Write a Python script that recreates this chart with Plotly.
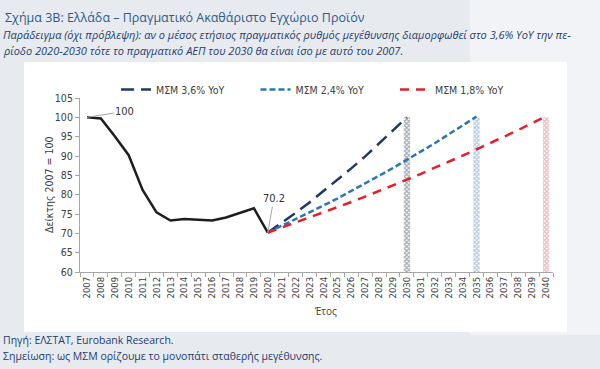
import plotly.graph_objects as go

years_hist = [2007, 2008, 2009, 2010, 2011, 2012, 2013, 2014, 2015, 2016, 2017, 2018, 2019, 2020]
gdp_hist = [100.0, 99.7, 95.1, 90.2, 81.2, 75.4, 73.3, 73.7, 73.5, 73.3, 74.1, 75.2, 76.5, 70.2]

years_36 = [2020, 2021, 2022, 2023, 2024, 2025, 2026, 2027, 2028, 2029, 2030]
path_36 = [70.2, 72.7, 75.3, 78.0, 80.9, 83.8, 86.8, 89.9, 93.2, 96.5, 100.0]

years_24 = [2020, 2021, 2022, 2023, 2024, 2025, 2026, 2027, 2028, 2029, 2030,
            2031, 2032, 2033, 2034, 2035]
path_24 = [70.2, 71.9, 73.6, 75.4, 77.2, 79.0, 80.9, 82.9, 84.9, 86.9, 89.0,
           91.1, 93.3, 95.6, 97.9, 100.2]

years_18 = [2020, 2021, 2022, 2023, 2024, 2025, 2026, 2027, 2028, 2029, 2030,
            2031, 2032, 2033, 2034, 2035, 2036, 2037, 2038, 2039, 2040]
path_18 = [70.2, 71.5, 72.7, 74.0, 75.4, 76.7, 78.1, 79.5, 80.9, 82.4, 83.9,
           85.4, 86.9, 88.5, 90.1, 91.7, 93.3, 95.0, 96.7, 98.5, 100.3]

bar_years = [2030, 2035, 2040]
bar_tops = [100.0, 100.0, 100.0]
bar_base = 60.0

tick_years = list(range(2007, 2041))
tick_labels = [str(y) for y in tick_years]

W, H = 600, 369
L, R, T, B = 80, 553, 98, 272


def px(x):
    return (x - L) / (R - L)


def py(y):
    return (B - y) / (B - T)


CH = "DejaVu Sans Condensed, Liberation Sans Narrow, Arial Narrow, sans-serif"
TX = "Open Sans, Noto Sans, sans-serif"

fig = go.Figure()

bar_colors = ["#3f4d63", "#5b93c4", "#d96a6a"]
for yv, top, c in zip(bar_years, bar_tops, bar_colors):
    fig.add_trace(go.Bar(
        x=[yv], y=[top - bar_base], base=bar_base, width=0.45,
        marker=dict(color="white", line=dict(width=0),
                    pattern=dict(shape="x", fgcolor=c, size=3, solidity=0.6)),
        showlegend=False, hoverinfo="skip"))

fig.add_trace(go.Scatter(x=years_hist, y=gdp_hist, mode="lines",
                         line=dict(color="#1e1e1e", width=2.5), showlegend=False))
fig.add_trace(go.Scatter(x=years_36, y=path_36, mode="lines", name="ΜΣΜ 3,6% YoY",
                         line=dict(color="#1f3864", width=2.5, dash="13px,7px")))
fig.add_trace(go.Scatter(x=years_24, y=path_24, mode="lines", name="ΜΣΜ 2,4% YoY",
                         line=dict(color="#2e75b6", width=2.5, dash="6px,3px")))
fig.add_trace(go.Scatter(x=years_18, y=path_18, mode="lines", name="ΜΣΜ 1,8% YoY",
                         line=dict(color="#e3202a", width=2.5, dash="9px,7px")))

shapes = [
    dict(type="rect", xref="paper", yref="paper", x0=px(470), x1=px(600), y0=py(0), y1=py(335),
         fillcolor="#f1f3f6", line=dict(width=0), layer="below"),
    dict(type="rect", xref="paper", yref="paper", x0=px(24), x1=px(567), y0=py(62), y1=py(332),
         fillcolor="white", line=dict(width=0), layer="below"),
]

annotations = [
    dict(text="Σχήμα 3Β: Ελλάδα – Πραγματικό Ακαθάριστο Εγχώριο Προϊόν",
         x=px(3), y=py(17), xref="paper", yref="paper", xanchor="left", yanchor="middle",
         showarrow=False, font=dict(family=TX, size=12.5, color="#2b5c88")),
    dict(text="<i>Παράδειγμα (όχι πρόβλεψη): αν ο μέσος ετήσιος πραγματικός ρυθμός μεγέθυνσης διαμορφωθεί στο 3,6% YoY την πε-</i>",
         x=px(1), y=py(34), xref="paper", yref="paper", xanchor="left", yanchor="middle",
         showarrow=False, font=dict(family=TX, size=11, color="#1f3c6b")),
    dict(text="<i>ρίοδο 2020-2030 τότε το πραγματικό ΑΕΠ του 2030 θα είναι ίσο με αυτό του 2007.</i>",
         x=px(1), y=py(51), xref="paper", yref="paper", xanchor="left", yanchor="middle",
         showarrow=False, font=dict(family=TX, size=11, color="#1f3c6b")),
    dict(text="Πηγή: ΕΛΣΤΑΤ, Eurobank Research.",
         x=px(1), y=py(340), xref="paper", yref="paper", xanchor="left", yanchor="middle",
         showarrow=False, font=dict(family=TX, size=10.5, color="#1f3c6b")),
    dict(text="Σημείωση: ως ΜΣΜ ορίζουμε το μονοπάτι σταθερής μεγέθυνσης.",
         x=px(1), y=py(356), xref="paper", yref="paper", xanchor="left", yanchor="middle",
         showarrow=False, font=dict(family=TX, size=10.5, color="#1f3c6b")),
    dict(text="Έτος", x=px(325), y=py(311), xref="paper", yref="paper",
         xanchor="center", yanchor="middle", showarrow=False,
         font=dict(family=TX, size=10, color="#404040")),
    dict(text="Δείκτης 2007 = 100", x=px(49), y=py(185), xref="paper", yref="paper",
         xanchor="center", yanchor="middle", showarrow=False, textangle=-90,
         font=dict(family=CH, size=10.5, color="#404040")),
    dict(text="100", x=years_hist[0], y=gdp_hist[0], xref="x", yref="y",
         ax=38, ay=-6, showarrow=True, arrowhead=0, arrowwidth=1, arrowcolor="#a6a6a6",
         font=dict(family=CH, size=11, color="#333333")),
    dict(text="70.2", x=years_hist[-1], y=gdp_hist[-1], xref="x", yref="y",
         ax=6, ay=-34, showarrow=True, arrowhead=0, arrowwidth=1, arrowcolor="#a6a6a6",
         font=dict(family=CH, size=11, color="#333333")),
]

fig.update_layout(
    width=W, height=H,
    margin=dict(l=L, r=W - R, t=T, b=H - B, autoexpand=False),
    paper_bgcolor="#e7ebf0", plot_bgcolor="rgba(0,0,0,0)",
    barmode="overlay",
    shapes=shapes, annotations=annotations,
    legend=dict(orientation="h", x=px(116), y=py(75), xanchor="left", yanchor="top",
                entrywidth=94.5, bgcolor="rgba(0,0,0,0)",
                font=dict(family=CH, size=10.5, color="#404040")),
    xaxis=dict(range=[2006.5, 2040.5], tickvals=tick_years, ticktext=tick_labels,
               tickangle=-90, ticks="", showgrid=False, zeroline=False,
               showline=True, linecolor="#a6a6a6", linewidth=1,
               tickfont=dict(family=CH, size=9.5, color="#404040"),
               minor=dict(tickvals=[y + 0.5 for y in [2006] + tick_years], ticks="outside",
                          ticklen=4, tickcolor="#a6a6a6", showgrid=False)),
    yaxis=dict(range=[60, 105], dtick=5, ticks="outside", ticklen=4, tickcolor="#a6a6a6",
               showgrid=False, zeroline=False, showline=True, linecolor="#a6a6a6", linewidth=1,
               tickfont=dict(family=CH, size=10.5, color="#404040")),
)

fig.write_html("out.html", config={"displayModeBar": False},
               post_script="document.body.style.margin='0px';")
